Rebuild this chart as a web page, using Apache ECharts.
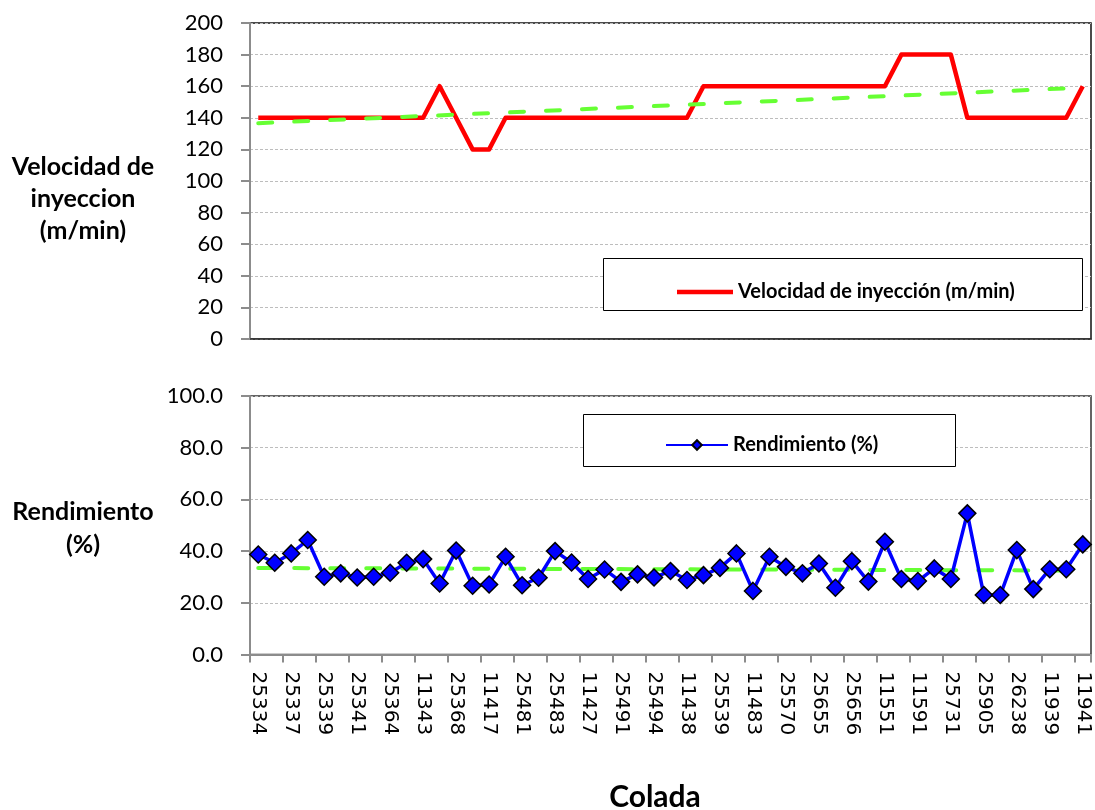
<!DOCTYPE html>
<html>
<head>
<meta charset="utf-8">
<script src="https://cdn.jsdelivr.net/npm/echarts@6/dist/echarts.min.js"></script>
<style>
  html, body { margin: 0; padding: 0; background: #fff; }
  #chart { width: 1095px; height: 810px; }
</style>
</head>
<body>
<div id="chart"></div>
<script>
// Heat codes printed under the axis (every second colada is labelled)
const labelledColadas = ['25334', '25337', '25339', '25341', '25364', '11343', '25368', '11417',
  '25481', '25483', '11427', '25491', '25494', '11438', '25539', '11483', '25570', '25655',
  '25656', '11551', '11591', '25731', '25905', '26238', '11939', '11941'];

// Injection speed per colada (m/min)
const velocidad = [140, 140, 140, 140, 140, 140, 140, 140, 140, 140, 140,
  160, 140, 120, 120,
  140, 140, 140, 140, 140, 140, 140, 140, 140, 140, 140, 140,
  160, 160, 160, 160, 160, 160, 160, 160, 160, 160, 160, 160,
  180, 180, 180, 180,
  140, 140, 140, 140, 140, 140, 140,
  160];

// Yield per colada (%)
const rendimiento = [38.7, 35.5, 39.1, 44.3, 30.1, 31.4, 29.8, 30.1, 31.6, 35.5,
  36.9, 27.5, 40.2, 26.6, 27.1, 37.8, 26.8, 29.7, 40.0, 35.6,
  29.2, 32.9, 28.1, 31.0, 29.8, 32.3, 28.8, 30.7, 33.5, 39.1,
  24.6, 37.8, 33.9, 31.4, 35.2, 25.8, 36.1, 28.2, 43.6, 29.2,
  28.4, 33.3, 29.2, 54.6, 23.0, 23.0, 40.4, 25.3, 33.0, 33.0, 42.6];

// One slot per colada; only the printed codes carry text
const categories = [];
velocidad.forEach((_, i) => categories.push(i % 2 === 0 ? labelledColadas[i / 2] : ''));

// Least-squares linear trend, returned as its two end points
function linearTrend(vals) {
  const n = vals.length;
  let sx = 0, sy = 0, sxy = 0, sxx = 0;
  vals.forEach((v, i) => { sx += i; sy += v; sxy += i * v; sxx += i * i; });
  const b = (n * sxy - sx * sy) / (n * sxx - sx * sx);
  const a = (sy - b * sx) / n;
  return [[0, a], [n - 1, a + b * (n - 1)]];
}

const FONT = 'Lato';
const gridLine = { show: true, lineStyle: { color: '#bdbdbd', type: [3, 2], width: 1 } };
const axisGrey = { show: true, lineStyle: { color: '#8c8c8c', width: 2 } };
const trendStyle = { color: '#66ff33', width: 4, type: [14, 22], cap: 'round' };

const chart = echarts.init(document.getElementById('chart'));
chart.setOption({
  animation: false,
  backgroundColor: '#fff',
  grid: [
    { left: 250, right: 4, top: 23, bottom: 471, show: true, borderColor: '#111', borderWidth: 1.5 },
    { left: 250, right: 4, top: 396, bottom: 155.5, show: true, borderColor: '#333', borderWidth: 1.5 }
  ],
  xAxis: [
    {
      type: 'category', gridIndex: 0, data: categories, boundaryGap: true,
      axisLine: { show: true, lineStyle: { color: '#333', width: 1.5 } },
      axisTick: { show: false }, axisLabel: { show: false }, splitLine: { show: false }
    },
    {
      type: 'category', gridIndex: 1, data: categories, boundaryGap: true,
      axisLine: axisGrey,
      axisTick: { show: true, interval: 1, length: 8, lineStyle: { color: '#8c8c8c', width: 2 } },
      axisLabel: {
        interval: 1, rotate: -90, margin: 17, color: '#000',
        fontFamily: 'DejaVu Sans', fontSize: 20
      },
      splitLine: { show: false }
    }
  ],
  yAxis: [
    {
      type: 'value', gridIndex: 0, min: 0, max: 200, interval: 20,
      axisLine: axisGrey,
      axisTick: { show: true, length: 9, lineStyle: { color: '#8c8c8c', width: 2 } },
      axisLabel: { margin: 27, color: '#000', fontFamily: FONT, fontSize: 22 },
      splitLine: gridLine
    },
    {
      type: 'value', gridIndex: 1, min: 0, max: 100, interval: 20,
      axisLine: axisGrey,
      axisTick: { show: true, length: 9, lineStyle: { color: '#8c8c8c', width: 2 } },
      axisLabel: {
        margin: 27, color: '#000', fontFamily: FONT, fontSize: 22,
        formatter: v => v.toFixed(1)
      },
      splitLine: gridLine
    }
  ],
  legend: [
    {
      data: [{ name: 'Velocidad de inyección (m/min)', icon: 'rect' }],
      left: 677, top: 282, z: 10,
      padding: 0, itemWidth: 56, itemHeight: 4.5, selectedMode: false,
      textStyle: { fontFamily: FONT, fontWeight: 'bold', fontSize: 20, color: '#000' }
    },
    {
      data: ['Rendimiento (%)'], left: 665, top: 435, z: 10,
      padding: 0, itemWidth: 62, itemHeight: 12, selectedMode: false,
      textStyle: { fontFamily: FONT, fontWeight: 'bold', fontSize: 20, color: '#000' }
    }
  ],
  graphic: [
    { type: 'rect', z: 5, shape: { x: 603.5, y: 258.5, width: 479, height: 52 },
      style: { fill: '#fff', stroke: '#000', lineWidth: 1 } },
    { type: 'rect', z: 5, shape: { x: 583.5, y: 414.5, width: 372, height: 52 },
      style: { fill: '#fff', stroke: '#000', lineWidth: 1 } },
    { type: 'text', x: 83, y: 150.7, z: 5,
      style: { text: 'Velocidad de\ninyeccion\n(m/min)', align: 'center', verticalAlign: 'top',
        lineHeight: 32, fontFamily: FONT, fontWeight: 'bold', fontSize: 25, fill: '#000' } },
    { type: 'text', x: 83, y: 495.5, z: 5,
      style: { text: 'Rendimiento\n(%)', align: 'center', verticalAlign: 'top',
        lineHeight: 33, fontFamily: FONT, fontWeight: 'bold', fontSize: 25, fill: '#000' } },
    { type: 'text', x: 655, y: 797, z: 5,
      style: { text: 'Colada', align: 'center', verticalAlign: 'middle',
        fontFamily: FONT, fontWeight: 'bold', fontSize: 30, fill: '#000' } }
  ],
  series: [
    {
      name: 'Velocidad de inyección (m/min)', type: 'line', xAxisIndex: 0, yAxisIndex: 0,
      data: velocidad, symbol: 'none', z: 3,
      lineStyle: { color: '#ff0000', width: 4.5, join: 'round' },
      itemStyle: { color: '#ff0000' }
    },
    {
      name: 'Tendencia velocidad', type: 'line', xAxisIndex: 0, yAxisIndex: 0,
      data: linearTrend(velocidad), symbol: 'none', silent: true, z: 4,
      lineStyle: trendStyle
    },
    {
      name: 'Rendimiento (%)', type: 'line', xAxisIndex: 1, yAxisIndex: 1,
      data: rendimiento, symbol: 'diamond', symbolSize: 17, showAllSymbol: true, z: 3,
      lineStyle: { color: '#0000ff', width: 3.5 },
      itemStyle: { color: '#0000ff', borderColor: '#000', borderWidth: 1.5 }
    },
    {
      name: 'Tendencia rendimiento', type: 'line', xAxisIndex: 1, yAxisIndex: 1,
      data: linearTrend(rendimiento), symbol: 'none', silent: true, z: 2,
      lineStyle: trendStyle
    }
  ]
});
</script>
</body>
</html>
